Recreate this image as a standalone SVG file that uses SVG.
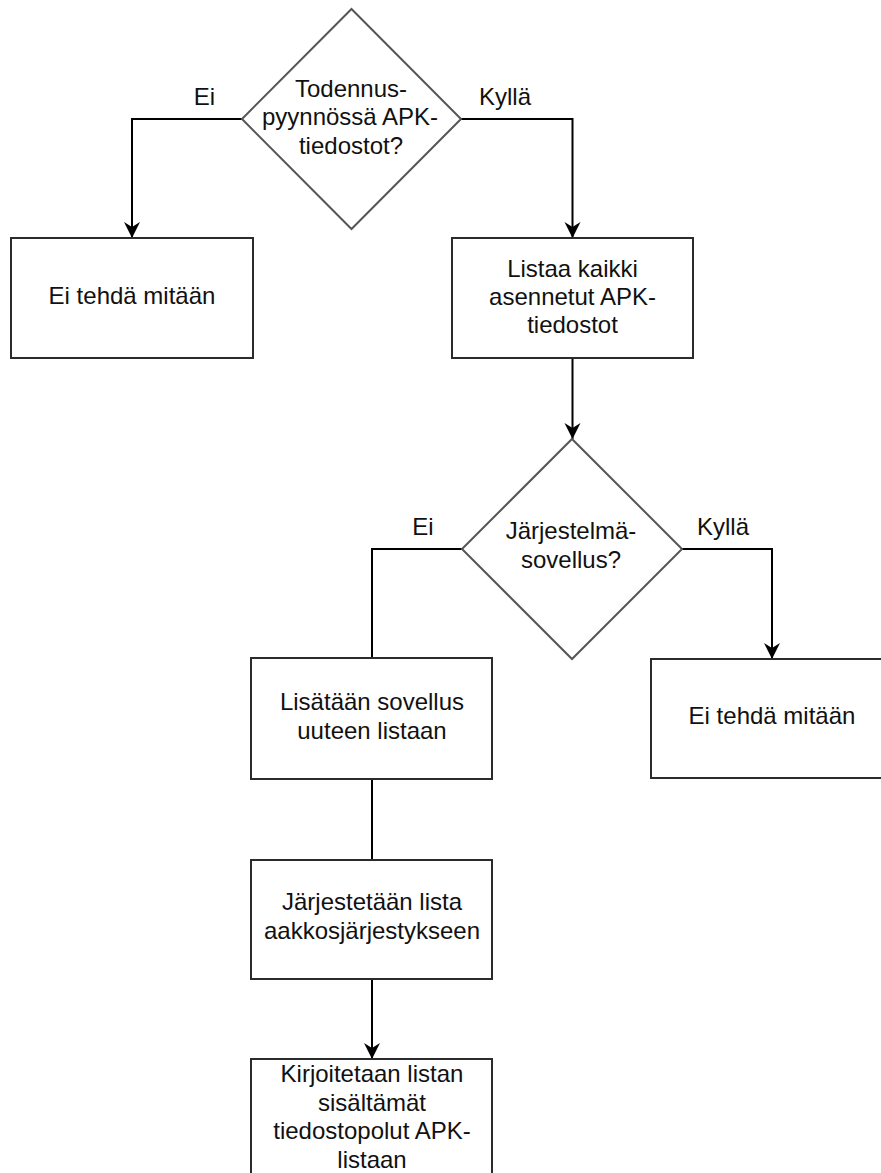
<svg xmlns="http://www.w3.org/2000/svg" width="881" height="1173" viewBox="0 0 881 1173">
  <defs>
    <!-- classic notched arrowhead, pointing along the path direction -->
    <marker id="arrow" markerUnits="userSpaceOnUse" markerWidth="17" markerHeight="17" refX="16" refY="8" orient="auto">
      <path d="M16,8 L0,0 L5,8 L0,16 Z" fill="#000"/>
    </marker>
    <style>
      .box { fill: #fff; stroke: #2b2b2b; stroke-width: 2; }
      .dia { fill: #fff; stroke: #555; stroke-width: 2; }
      .edge { fill: none; stroke: #000; stroke-width: 2; }
      .arr { marker-end: url(#arrow); }
      text { font-family: "Liberation Sans", Arial, sans-serif; font-size: 24px; fill: #111; }
      .c { text-anchor: middle; }
    </style>
  </defs>

  <rect width="881" height="1173" fill="#fff"/>

  <!-- connectors -->
  <g id="connectors">
    <polyline class="edge arr" points="242,119 132,119 132,238"/>
    <polyline class="edge arr" points="461,119 572.5,119 572.5,238"/>
    <polyline class="edge arr" points="572.5,358 572.5,439"/>
    <polyline class="edge" points="462,549 372,549 372,658"/>
    <polyline class="edge arr" points="682,549 772,549 772,659"/>
    <polyline class="edge" points="372,779 372,860"/>
    <polyline class="edge arr" points="372,979 372,1059"/>
    <text class="c" x="204.5" y="105">Ei</text>
    <text x="479" y="105">Kyllä</text>
    <text class="c" x="423" y="535">Ei</text>
    <text x="697" y="535">Kyllä</text>
  </g>

  <!-- decision: APK files in request? -->
  <g id="decision-apk">
    <polygon class="dia" points="351.5,9 461,119 351.5,229 242,119"/>
    <text class="c" x="351" y="96.5">Todennus-</text>
    <text class="c" x="350" y="125">pyynnössä APK-</text>
    <text class="c" x="351" y="153.5">tiedostot?</text>
  </g>

  <g id="noop-1">
    <rect class="box" x="11" y="238" width="242" height="120"/>
    <text class="c" x="132" y="304">Ei tehdä mitään</text>
  </g>

  <g id="list-installed">
    <rect class="box" x="452" y="238" width="241" height="120"/>
    <text class="c" x="572.5" y="277">Listaa kaikki</text>
    <text class="c" x="572.5" y="305">asennetut APK-</text>
    <text class="c" x="572.5" y="333">tiedostot</text>
  </g>

  <!-- decision: system app? -->
  <g id="decision-system">
    <polygon class="dia" points="572,439 682,549 572,659 462,549"/>
    <text class="c" x="571" y="539">Järjestelmä-</text>
    <text class="c" x="571" y="568">sovellus?</text>
  </g>

  <g id="add-to-list">
    <rect class="box" x="251" y="658" width="241" height="121"/>
    <text class="c" x="372" y="710">Lisätään sovellus</text>
    <text class="c" x="372" y="739">uuteen listaan</text>
  </g>

  <g id="noop-2">
    <rect class="box" x="651" y="659" width="242" height="119"/>
    <text class="c" x="772" y="724">Ei tehdä mitään</text>
  </g>

  <g id="sort-list">
    <rect class="box" x="251" y="860" width="241" height="119"/>
    <text class="c" x="372" y="910">Järjestetään lista</text>
    <text class="c" x="372" y="939">aakkosjärjestykseen</text>
  </g>

  <g id="write-list">
    <rect class="box" x="251" y="1059" width="241" height="130"/>
    <text class="c" x="372" y="1082">Kirjoitetaan listan</text>
    <text class="c" x="372" y="1110.5">sisältämät</text>
    <text class="c" x="372" y="1139">tiedostopolut APK-</text>
    <text class="c" x="372" y="1168">listaan</text>
  </g>
</svg>
